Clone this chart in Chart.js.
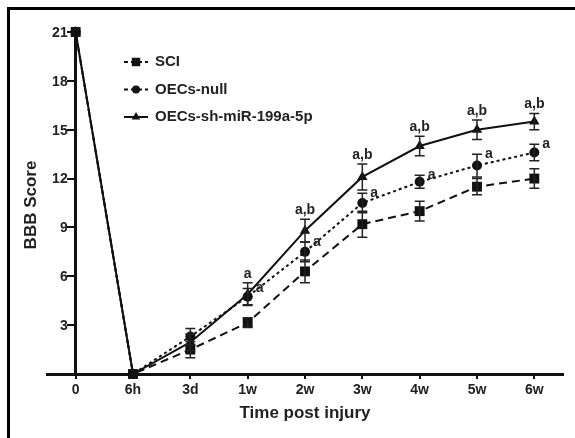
<!DOCTYPE html>
<html>
<head>
<meta charset="utf-8">
<script src="https://cdn.jsdelivr.net/npm/chart.js@4.4.1/dist/chart.umd.min.js"></script>
<style>
  html, body { margin: 0; padding: 0; background: #fff; }
  #wrap { width: 575px; height: 438px; position: relative; }
</style>
</head>
<body>
<div id="wrap"><canvas id="bbbChart" width="575" height="438"></canvas></div>
<script>
// categories (time post injury)
const timeLabels = ['0', '6h', '3d', '1w', '2w', '3w', '4w', '5w', '6w']
const yTicks = [0, 3, 6, 9, 12, 15, 18, 21]

// mean BBB scores
const sciMean = [21, 0, 1.5, 3.15, 6.3, 9.2, 10.0, 11.5, 12.0]
const nullMean = [21, 0, 2.3, 4.75, 7.5, 10.5, 11.8, 12.8, 13.6]
const shMean = [21, 0, 1.95, 4.9, 8.8, 12.1, 14.0, 15.0, 15.5]

// error bars (SEM)
const sciErr = [0, 0, 0.5, 0.3, 0.7, 0.8, 0.6, 0.5, 0.6]
const nullErr = [0, 0, 0.5, 0.5, 0.6, 0.6, 0.4, 0.7, 0.5]
const shErr = [0, 0, 0.5, 0.7, 0.7, 0.8, 0.6, 0.6, 0.5]

// significance marks
const shSig = ['', '', '', 'a', 'a,b', 'a,b', 'a,b', 'a,b', 'a,b']
const nullSig = ['', '', '', 'a', 'a', 'a', 'a', 'a', 'a']

const toPts = (arr) => arr.map((v, i) => ({ x: i, y: v }))
const FONT = '"Liberation Sans", Arial, sans-serif'

const series = [
  { label: 'SCI', data: sciMean, err: sciErr, dash: [8, 5], style: 'rect', radius: 7 },
  { label: 'OECs-null', data: nullMean, err: nullErr, dash: [3, 3], style: 'circle', radius: 5 },
  { label: 'OECs-sh-miR-199a-5p', data: shMean, err: shErr, dash: [], style: 'triangle', radius: 6 },
]

// error bars + significance letters + y labels + legend + axis titles + frame
const extras = {
  id: 'extras',
  beforeDraw(chart) {
    const ctx = chart.ctx
    ctx.save()
    ctx.fillStyle = '#fff'
    ctx.fillRect(0, 0, chart.width, chart.height)
    ctx.restore()
  },
  afterDatasetsDraw(chart) {
    const ctx = chart.ctx
    const xs = chart.scales.x
    const ys = chart.scales.y
    ctx.save()
    ctx.strokeStyle = '#222'
    ctx.lineWidth = 1.5
    series.forEach((s) => {
      s.data.forEach((v, i) => {
        const e = s.err[i]
        if (!e) return
        const px = xs.getPixelForValue(i)
        const top = ys.getPixelForValue(v + e)
        const bot = ys.getPixelForValue(v - e)
        ctx.beginPath()
        ctx.moveTo(px, top); ctx.lineTo(px, bot)
        ctx.moveTo(px - 5, top); ctx.lineTo(px + 5, top)
        ctx.moveTo(px - 5, bot); ctx.lineTo(px + 5, bot)
        ctx.stroke()
      })
    })

    ctx.fillStyle = '#222'
    ctx.font = 'bold 14px ' + FONT
    shSig.forEach((t, i) => {
      if (!t) return
      ctx.textAlign = 'center'
      ctx.textBaseline = 'bottom'
      ctx.fillText(t, xs.getPixelForValue(i), ys.getPixelForValue(shMean[i] + shErr[i]) - 2)
    })
    nullSig.forEach((t, i) => {
      if (!t) return
      ctx.textAlign = 'left'
      ctx.textBaseline = 'middle'
      ctx.fillText(t, xs.getPixelForValue(i) + 8, ys.getPixelForValue(nullMean[i] + nullErr[i]))
    })

    // y tick labels (axis sits at x = 0, so place them left of its tick marks)
    const axisX = xs.getPixelForValue(0)
    ctx.textAlign = 'right'
    ctx.textBaseline = 'middle'
    yTicks.forEach((v) => {
      if (v === 0) return
      ctx.fillText(String(v), axisX - 8, ys.getPixelForValue(v) + 1)
    })

    // legend
    ctx.font = 'bold 15px ' + FONT
    series.forEach((s, k) => {
      const y = 62 + k * 27.5
      ctx.strokeStyle = '#111'
      ctx.lineWidth = 2
      ctx.setLineDash(s.dash.length ? [4, 3] : [])
      ctx.beginPath(); ctx.moveTo(124, y); ctx.lineTo(148, y); ctx.stroke()
      ctx.setLineDash([])
      ctx.fillStyle = '#111'
      Chart.helpers.drawPoint(ctx, { pointStyle: s.style, radius: s.radius - 1, rotation: 0, borderWidth: 0 }, 136, y)
      ctx.fillStyle = '#222'
      ctx.textAlign = 'left'
      ctx.textBaseline = 'middle'
      ctx.fillText(s.label, 155, y)
    })

    // axis titles
    ctx.font = 'bold 17px ' + FONT
    ctx.textAlign = 'center'
    ctx.textBaseline = 'middle'
    ctx.fillText('Time post injury', 305, 413)
    ctx.save()
    ctx.translate(31, 205)
    ctx.rotate(-Math.PI / 2)
    ctx.fillText('BBB Score', 0, 0)
    ctx.restore()

    // frame (top and left edges only; rest is cropped)
    ctx.fillStyle = '#000'
    ctx.fillRect(7, 7, chart.width - 7, 3)
    ctx.fillRect(7, 7, 3, chart.height - 7)
    ctx.restore()
  },
}

new Chart(document.getElementById('bbbChart'), {
  type: 'line',
  data: {
    datasets: series.map((s) => ({
      label: s.label,
      data: toPts(s.data),
      borderColor: '#111',
      backgroundColor: '#111',
      borderWidth: 2,
      borderDash: s.dash,
      pointStyle: s.style,
      pointRadius: s.radius,
      pointBorderWidth: 0,
      pointBackgroundColor: '#111',
      tension: 0,
      clip: false,
    })),
  },
  options: {
    responsive: false,
    animation: false,
    devicePixelRatio: 1,
    layout: { padding: { left: 47, right: 12, top: 32, bottom: 0 } },
    plugins: { legend: { display: false }, tooltip: { enabled: false } },
    scales: {
      x: {
        type: 'linear',
        min: -0.5,
        max: 8.5,
        afterBuildTicks: (s) => { s.ticks = timeLabels.map((_, i) => ({ value: i })) },
        afterFit: (s) => { s.height = 64 },
        grid: { drawOnChartArea: false, drawTicks: true, tickLength: 5, color: '#111', lineWidth: 2 },
        border: { display: true, color: '#111', width: 3 },
        ticks: {
          padding: 3,
          color: '#222',
          font: { family: FONT, size: 14, weight: 'bold' },
          callback: (v) => timeLabels[v],
        },
      },
      y: {
        min: 0,
        max: 21,
        position: { x: 0 },
        afterBuildTicks: (s) => { s.ticks = yTicks.map((v) => ({ value: v })) },
        grid: { drawOnChartArea: false, drawTicks: true, tickLength: 7, color: '#111', lineWidth: 2 },
        border: { display: true, color: '#111', width: 3 },
        ticks: { display: false },
      },
    },
  },
  plugins: [extras],
})
</script>
</body>
</html>
